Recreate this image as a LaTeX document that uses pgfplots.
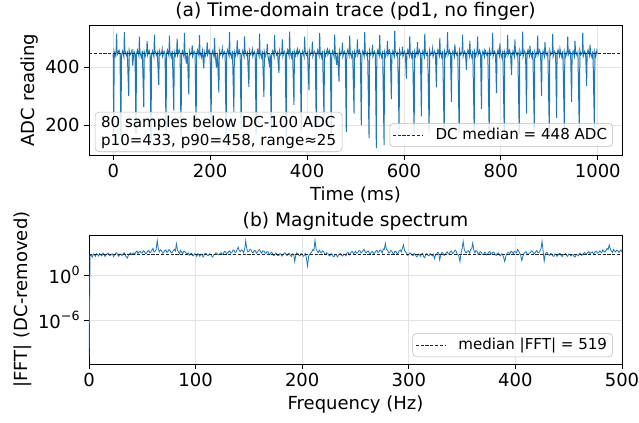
\documentclass[border=0pt]{standalone}
\usepackage{fontspec}
\setmainfont{DejaVu Sans}
\usepackage{pgfplots}
\pgfplotsset{compat=1.18}
\definecolor{mplblue}{HTML}{1F77B4}

\newcommand{\bigfont}{\fontsize{13.5}{16}\selectfont}
\newcommand{\boxfont}{\fontsize{11.3}{13.6}\selectfont}

\pgfplotsset{
  panel/.style={
    scale only axis,
    width=399.75pt,
    axis line style={black, line width=0.6pt},
    tick align=outside, tick pos=left,
    major tick length=3.5pt,
    every tick/.style={black, line width=0.6pt},
    grid=major,
    major grid style={gray!22, line width=0.6pt},
    tick label style={font=\bigfont},
    label style={font=\bigfont},
    every axis title/.style={at={(0.5,1)}, anchor=base, yshift=6.4pt,
      font=\fontsize{14}{17}\selectfont},
    xlabel style={at={(axis description cs:0.5,0)}, anchor=base, yshift=-33.75pt},
    /pgf/number format/assume math mode=true,
    /pgf/number format/1000 sep={},
    legend style={
      draw=gray!55, rounded corners=3pt, fill=white, fill opacity=0.8,
      text opacity=1, font=\boxfont, anchor=south east,
      inner xsep=2pt, inner ysep=1.5pt,
      nodes={inner sep=2.2pt},
    },
    legend cell align=left,
  },
  dcline/.style={black!85, line width=0.6pt, dash pattern=on 2.4pt off 1.2pt,
    legend image code/.code={\draw[##1] (0pt,0pt) -- (22.5pt,0pt);}},
}

\begin{document}
\begin{tikzpicture}
\path[use as bounding box] (0,0) rectangle (479.25pt,316.5pt);

% (a) time-domain trace
\begin{axis}[panel,
  at={(66.75pt,200.25pt)}, anchor=south west,
  height=97.5pt,
  xmin=-50, xmax=1050, ymin=97, ymax=545,
  xtick={0,200,400,600,800,1000},
  ytick={200,400},
  title={(a) Time-domain trace (pd1, no finger)},
  xlabel={Time (ms)},
  ylabel={ADC reading},
  ylabel style={at={(axis description cs:-0.1116,0.5)}, anchor=center},
  legend style={at={(0.983,0.062)}},
]
\addplot[mplblue, line width=0.75pt, forget plot] coordinates {
(0,446) (1,175) (2,452) (4,438) (6,456) (7,515) (8,442) (10,450) (12,458) (14,445)
(16,165) (17,440) (19,455) (22,436) (23,520) (24,457) (27,441) (29,450)
(32,300) (33,457) (35,443) (38,451) (39,462) (40,405) (43,454) (45,446)
(47,170) (48,445) (50,459) (53,439) (54,505) (55,452) (58,434) (60,456)
(63,262) (64,452) (66,438) (69,456) (70,490) (71,442) (74,458) (76,445)
(78,150) (79,440) (81,455) (84,436) (85,512) (86,457) (89,441) (91,450)
(94,338) (95,457) (97,443) (100,451) (101,461) (102,437) (105,454) (107,446)
(109,180) (110,445) (112,459) (115,439) (116,508) (117,452) (120,434) (122,456)
(125,250) (126,452) (128,438) (131,456) (132,498) (133,442) (136,458) (138,445)
(140,160) (141,440) (143,455) (146,436) (147,518) (148,457) (151,412) (153,450)
(156,305) (157,457) (159,443) (162,451) (163,475) (164,437) (167,454) (169,446)
(171,172) (172,445) (174,459) (177,439) (178,510) (179,452) (182,434) (184,456)
(187,395) (188,452) (190,438) (193,456) (194,485) (195,442) (198,458) (200,445)
(202,200) (203,440) (205,455) (208,436) (209,500) (210,457) (213,398) (215,450)
(218,312) (219,457) (221,443) (224,451) (225,463) (226,437) (229,454) (231,446)
(233,160) (234,445) (236,459) (239,439) (240,520) (241,452) (244,434) (246,456)
(249,245) (250,452) (252,438) (255,456) (256,492) (257,442) (260,458) (262,445)
(264,185) (265,440) (267,455) (270,436) (271,506) (272,457) (275,441) (277,450)
(280,331) (281,457) (283,443) (286,451) (287,460) (288,437) (291,454) (293,446)
(295,168) (296,445) (298,459) (301,439) (302,515) (303,452) (306,434) (308,456)
(311,297) (312,452) (314,438) (317,456) (318,480) (319,442) (322,410) (324,445)
(326,180) (327,440) (329,455) (332,436) (333,510) (334,457) (337,441) (339,450)
(342,380) (343,457) (345,443) (348,451) (349,495) (350,437) (353,454) (355,446)
(357,158) (358,445) (360,459) (363,439) (364,522) (365,452) (368,434) (370,456)
(373,270) (374,452) (376,438) (379,456) (380,462) (381,442) (384,458) (386,445)
(388,175) (389,440) (391,455) (394,436) (395,505) (396,457) (399,441) (401,450)
(404,320) (405,457) (407,443) (410,451) (411,488) (412,437) (415,454) (417,446)
(419,190) (420,445) (422,459) (425,439) (426,518) (427,452) (430,434) (432,456)
(435,224) (436,452) (438,438) (441,456) (442,461) (443,442) (446,458) (448,445)
(450,165) (451,440) (453,455) (456,436) (457,512) (458,457) (461,408) (463,450)
(466,350) (467,457) (469,443) (472,451) (473,484) (474,437) (477,454) (479,446)
(481,176) (482,445) (484,459) (487,439) (488,508) (489,452) (492,434) (494,456)
(497,240) (498,452) (500,438) (503,456) (504,495) (505,442) (508,458) (510,445)
(512,200) (513,440) (515,455) (518,436) (519,520) (520,457) (523,441) (525,450)
(528,155) (529,457) (531,443) (534,451) (535,476) (536,437) (539,454) (541,446)
(543,121) (544,445) (546,459) (549,439) (550,510) (551,452) (554,434) (556,456)
(559,131) (560,452) (562,438) (565,456) (566,490) (567,442) (570,458) (572,445)
(574,290) (575,440) (577,455) (580,436) (581,524) (582,457) (585,441) (587,450)
(590,185) (591,457) (593,443) (596,451) (597,470) (598,437) (601,454) (603,446)
(605,360) (606,445) (608,459) (611,439) (612,506) (613,452) (616,434) (618,456)
(621,170) (622,452) (624,438) (627,456) (628,486) (629,442) (632,458) (634,445)
(636,230) (637,440) (639,455) (642,436) (643,515) (644,457) (647,441) (649,450)
(652,178) (653,457) (655,443) (658,451) (659,463) (660,437) (663,454) (665,446)
(667,330) (668,445) (670,459) (673,439) (674,500) (675,452) (678,434) (680,456)
(683,165) (684,452) (686,438) (689,456) (690,520) (691,442) (694,458) (696,445)
(698,280) (699,440) (701,455) (704,436) (705,478) (706,457) (709,441) (711,450)
(714,172) (715,457) (717,443) (720,451) (721,512) (722,437) (725,454) (727,446)
(729,390) (730,445) (732,459) (735,439) (736,490) (737,452) (740,434) (742,456)
(745,180) (746,452) (748,438) (751,456) (752,505) (753,442) (756,458) (758,445)
(760,255) (761,440) (763,455) (766,436) (767,460) (768,457) (771,441) (773,450)
(776,168) (777,457) (779,443) (782,451) (783,518) (784,437) (787,454) (789,446)
(791,310) (792,445) (794,459) (797,439) (798,482) (799,452) (802,434) (804,456)
(807,175) (808,452) (810,438) (813,456) (814,510) (815,442) (818,458) (820,445)
(822,372) (823,440) (825,455) (828,436) (829,495) (830,457) (833,441) (835,450)
(838,170) (839,457) (841,443) (844,451) (845,522) (846,437) (849,454) (851,446)
(853,240) (854,445) (856,459) (859,439) (860,474) (861,452) (864,434) (866,456)
(869,185) (870,452) (872,438) (875,456) (876,508) (877,442) (880,458) (882,445)
(884,300) (885,440) (887,455) (890,436) (891,486) (892,457) (895,441) (897,450)
(900,172) (901,457) (903,443) (906,451) (907,514) (908,437) (911,454) (913,446)
(915,225) (916,445) (918,459) (921,439) (922,462) (923,452) (926,434) (928,456)
(931,180) (932,452) (934,438) (937,456) (938,505) (939,442) (942,458) (944,445)
(946,280) (947,440) (949,455) (952,436) (953,490) (954,457) (957,441) (959,450)
(962,165) (963,457) (965,443) (968,451) (969,518) (970,437) (973,454) (975,446)
(977,335) (978,445) (980,459) (983,439) (984,476) (985,452) (988,434) (990,456)
(993,190) (994,452) (996,438) (998,456) (999,447)
};
\addplot[dcline] coordinates {(-50,448) (1050,448)};
\addlegendentry{\hspace{7pt}DC median = 448 ADC}
\node[draw=gray!55, rounded corners=3pt, fill=white, fill opacity=0.8,
  text opacity=1, font=\boxfont, align=left, anchor=south west,
  inner xsep=4.5pt, inner ysep=2.6pt]
  at (rel axis cs:0.011,0.023)
  {80 samples below DC-100 ADC\\p10=433, p90=458, range≈25};
\end{axis}

% (b) magnitude spectrum
\begin{axis}[panel,
  at={(66.75pt,43.5pt)}, anchor=south west,
  height=96.75pt,
  xmin=0, xmax=500,
  ymode=log, ymin=1.35e-12, ymax=2.1e5,
  xtick={0,100,200,300,400,500},
  ytick={1e-6,1},
  yticklabels={10\raisebox{0.42em}{\fontsize{9.5}{10}\selectfont −6},
               10\raisebox{0.42em}{\fontsize{9.5}{10}\selectfont 0}},
  minor ytick={},
  title={(b) Magnitude spectrum},
  xlabel={Frequency (Hz)},
  ylabel={|FFT| (DC-removed)},
  ylabel style={at={(axis description cs:-0.1248,0.5)}, anchor=center},
  legend style={at={(0.983,0.054)}},
]
\addplot[mplblue, line width=0.6pt, forget plot] coordinates {
(0,1e-11) (1,380) (2,410) (3,250) (4,620) (5,480) (6,300) (7,700) (8,520) (9,330)
(10,700) (11,450) (12,350) (13,800) (14,580) (15,300) (16,460) (17,650) (18,820) (19,420)
(20,390) (21,560) (22,640) (23,280) (24,510) (25,750) (26,900) (27,480) (28,300) (29,620)
(30,560) (31,380) (32,720) (33,900) (34,420) (35,260) (36,180) (37,450) (38,610) (39,850)
(40,480) (41,700) (42,860) (43,500) (44,1100) (45,1600) (46,700) (47,1200) (48,1500) (49,800)
(50,920) (51,1700) (52,1300) (53,700) (54,800) (55,1400) (56,1900) (57,900) (58,1100) (59,2000)
(60,3500) (61,1100) (62,1400) (63,2500) (64,40000) (65,3000) (66,1200) (67,2200) (68,1700) (69,800)
(70,900) (71,1800) (72,2200) (73,1000) (74,1300) (75,2400) (76,1800) (77,900) (78,1000) (79,1700)
(80,2600) (81,1500) (82,14000) (83,2000) (84,1200) (85,700) (86,1900) (87,1100) (88,700) (89,1500)
(90,1300) (91,800) (92,600) (93,900) (94,420) (95,650) (96,780) (97,400) (98,350) (99,700)
(100,560) (101,300) (102,680) (103,480) (104,300) (105,600) (106,520) (107,250) (108,450) (109,800)
(110,700) (111,420) (112,380) (113,650) (114,600) (115,330) (116,250) (117,480) (118,540) (119,900)
(120,800) (121,500) (122,470) (123,750) (124,900) (125,550) (126,650) (127,1400) (128,1200) (129,700)
(130,800) (131,1300) (132,1600) (133,800) (134,950) (135,2000) (136,2100) (137,1000) (138,1100) (139,2500)
(140,5000) (141,1600) (142,1300) (143,2200) (144,1800) (145,900) (146,2500) (147,35000) (148,3000) (149,1200)
(150,1400) (151,2600) (152,2200) (153,1000) (154,900) (155,1800) (156,1700) (157,800) (158,1100) (159,1900)
(160,2400) (161,1200) (162,800) (163,1600) (164,1500) (165,900) (166,700) (167,1300) (168,1200) (169,500)
(170,600) (171,1000) (172,850) (173,380) (174,450) (175,800) (176,700) (177,400) (178,380) (179,700)
(180,620) (181,330) (182,500) (183,800) (184,900) (185,450) (186,400) (187,750) (188,680) (189,350)
(190,300) (191,650) (192,560) (193,60) (194,480) (195,900) (196,700) (197,400) (198,350) (199,750)
(200,600) (201,300) (202,420) (203,700) (204,150) (205,15) (206,300) (207,550) (208,800) (209,1200)
(210,2500) (211,1800) (212,40000) (213,3000) (214,1500) (215,900) (216,2000) (217,1200) (218,900) (219,1600)
(220,1300) (221,700) (222,500) (223,900) (224,750) (225,400) (226,350) (227,700) (228,600) (229,300)
(230,280) (231,550) (232,520) (233,250) (234,400) (235,650) (236,700) (237,420) (238,330) (239,600)
(240,560) (241,350) (242,800) (243,1000) (244,450) (245,700) (246,1100) (247,1400) (248,700) (249,900)
(250,1400) (251,800) (252,900) (253,1600) (254,1800) (255,900) (256,1100) (257,1800) (258,2500) (259,1200)
(260,900) (261,1400) (262,1600) (263,800) (264,700) (265,1200) (266,1300) (267,700) (268,850) (269,1500)
(270,2000) (271,1000) (272,1200) (273,2200) (274,1700) (275,900) (276,3000) (277,2500) (278,16000) (279,2500)
(280,2000) (281,900) (282,1000) (283,1800) (284,1500) (285,800) (286,700) (287,1500) (288,1300) (289,700)
(290,800) (291,1600) (292,2200) (293,1200) (294,3500) (295,10000) (296,1800) (297,1100) (298,800) (299,400)
(300,500) (301,900) (302,700) (303,420) (304,380) (305,750) (306,560) (307,280) (308,300) (309,600)
(310,480) (311,300) (312,620) (313,800) (314,260) (315,200) (316,500) (317,700) (318,420) (319,350)
(320,700) (321,500) (322,350) (323,600) (324,150) (325,400) (326,600) (327,1000) (328,900) (329,100)
(330,500) (331,1000) (332,800) (333,400) (334,450) (335,900) (336,1200) (337,600) (338,700) (339,1300)
(340,1500) (341,700) (342,900) (343,1700) (344,2000) (345,800) (346,500) (347,300) (348,60) (349,800)
(350,3000) (351,30000) (352,2500) (353,1200) (354,900) (355,1500) (356,1600) (357,800) (358,2500) (359,3000)
(360,18000) (361,2000) (362,900) (363,1800) (364,1400) (365,600) (366,700) (367,1300) (368,1100) (369,500)
(370,500) (371,1000) (372,900) (373,450) (374,600) (375,1100) (376,1300) (377,600) (378,700) (379,1200)
(380,1000) (381,500) (382,400) (383,750) (384,800) (385,450) (386,350) (387,650) (388,500) (389,200)
(390,60) (391,300) (392,600) (393,1000) (394,900) (395,700) (396,1500) (397,1100) (398,700) (399,1400)
(400,1200) (401,900) (402,2500) (403,1500) (404,800) (405,400) (406,80) (407,300) (408,700) (409,1000)
(410,1300) (411,700) (412,500) (413,800) (414,900) (415,1600) (416,1500) (417,800) (418,700) (419,1200)
(420,1800) (421,1000) (422,900) (423,1600) (424,3000) (425,30000) (426,1500) (427,70) (428,600) (429,1000)
(430,900) (431,500) (432,400) (433,700) (434,650) (435,350) (436,300) (437,600) (438,550) (439,300)
(440,420) (441,750) (442,700) (443,380) (444,280) (445,550) (446,500) (447,700) (448,380) (449,300)
(450,600) (451,550) (452,330) (453,450) (454,520) (455,300) (456,250) (457,500) (458,480) (459,350)
(460,650) (461,800) (462,400) (463,500) (464,800) (465,1000) (466,550) (467,700) (468,1000) (469,1300)
(470,650) (471,900) (472,1200) (473,700) (474,800) (475,1400) (476,1500) (477,800) (478,900) (479,1600)
(480,1300) (481,900) (482,2200) (483,1500) (484,1100) (485,1800) (486,3500) (487,2500) (488,10000) (489,3000)
(490,1600) (491,1000) (492,2500) (493,1600) (494,1200) (495,2000) (496,1800) (497,1000) (498,1400) (499,2200)
(500,1100)
};
\addplot[dcline] coordinates {(0,519) (500,519)};
\addlegendentry{\hspace{7pt}median |FFT| = 519}
\end{axis}
\end{tikzpicture}
\end{document}
